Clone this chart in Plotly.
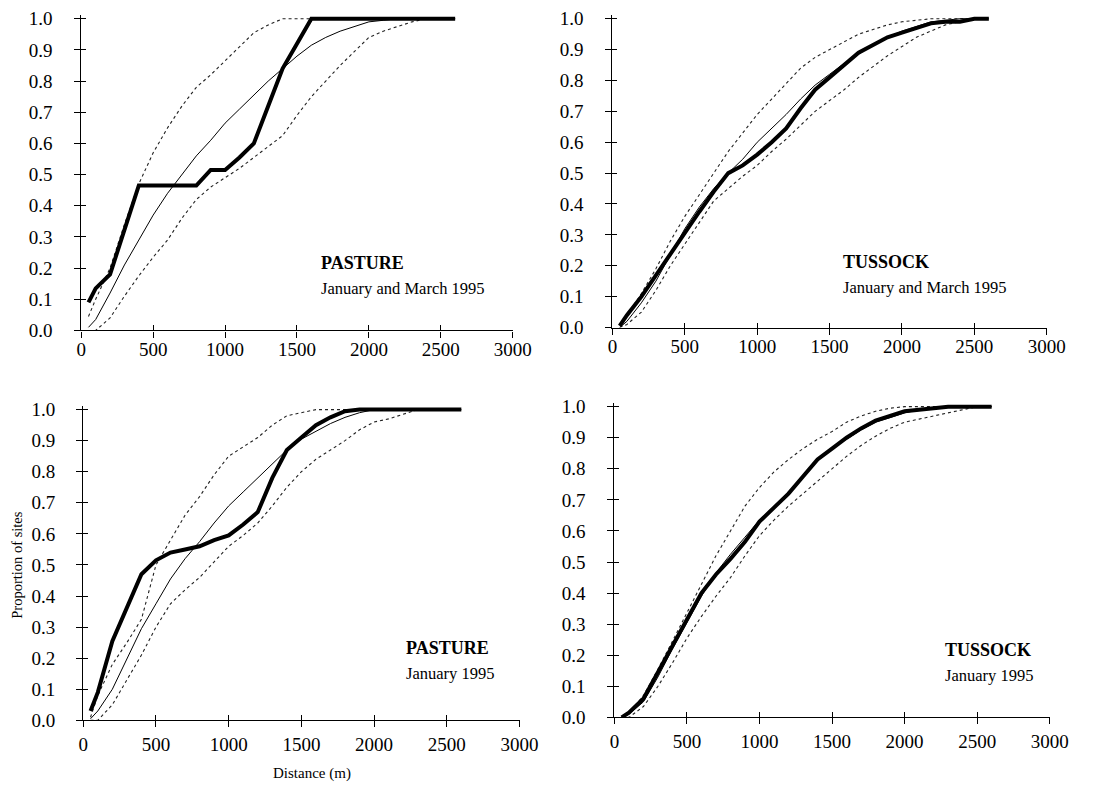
import plotly.graph_objects as go

# ---------------- data ----------------
distance = [50, 100, 200, 300, 400, 500, 600, 700, 800, 900, 1000, 1100, 1200, 1300,
            1400, 1500, 1600, 1700, 1800, 1900, 2000, 2100, 2200, 2300, 2400, 2500, 2600]

# Panel 1: PASTURE, January and March 1995 (observed, expected, upper/lower envelope)
p1_obs = [0.09, 0.135, 0.18, 0.32, 0.465, 0.465, 0.465, 0.465, 0.465, 0.515, 0.515, 0.555, 0.60, 0.72,
          0.84, 0.92, 1.0, 1.0, 1.0, 1.0, 1.0, 1.0, 1.0, 1.0, 1.0, 1.0, 1.0]
p1_exp = [0.01, 0.035, 0.12, 0.21, 0.29, 0.37, 0.44, 0.50, 0.56, 0.61, 0.665, 0.71, 0.755, 0.80,
          0.84, 0.88, 0.915, 0.94, 0.96, 0.975, 0.99, 0.995, 1.0, 1.0, 1.0, 1.0, 1.0]
p1_up = [0.045, 0.10, 0.20, 0.34, 0.47, 0.57, 0.65, 0.72, 0.78, 0.82, 0.865, 0.91, 0.955, 0.98,
         1.0, 1.0, 1.0, 1.0, 1.0, 1.0, 1.0, 1.0, 1.0, 1.0, 1.0, 1.0, 1.0]
p1_lo = [0.0, 0.0, 0.04, 0.11, 0.175, 0.235, 0.29, 0.36, 0.42, 0.46, 0.49, 0.52, 0.555, 0.59,
         0.625, 0.69, 0.75, 0.80, 0.85, 0.895, 0.94, 0.96, 0.975, 0.99, 1.0, 1.0, 1.0]

# Panel 2: TUSSOCK, January and March 1995
p2_obs = [0.005, 0.04, 0.10, 0.17, 0.24, 0.31, 0.375, 0.44, 0.50, 0.525, 0.56, 0.60, 0.645, 0.71,
          0.77, 0.81, 0.85, 0.89, 0.915, 0.94, 0.955, 0.97, 0.985, 0.99, 0.99, 1.0, 1.0]
p2_exp = [0.0, 0.02, 0.08, 0.15, 0.235, 0.32, 0.39, 0.45, 0.50, 0.545, 0.60, 0.645, 0.69, 0.74,
          0.785, 0.82, 0.855, 0.885, 0.915, 0.94, 0.96, 0.975, 0.99, 0.995, 1.0, 1.0, 1.0]
p2_up = [0.01, 0.04, 0.11, 0.19, 0.28, 0.36, 0.43, 0.50, 0.57, 0.63, 0.69, 0.74, 0.79, 0.84,
         0.875, 0.90, 0.925, 0.95, 0.965, 0.98, 0.99, 0.995, 1.0, 1.0, 1.0, 1.0, 1.0]
p2_lo = [0.0, 0.01, 0.05, 0.12, 0.20, 0.27, 0.34, 0.41, 0.45, 0.49, 0.525, 0.57, 0.61, 0.655,
         0.70, 0.735, 0.77, 0.81, 0.845, 0.88, 0.91, 0.94, 0.96, 0.98, 0.99, 1.0, 1.0]

# Panel 3: PASTURE, January 1995
p3_obs = [0.03, 0.09, 0.255, 0.36, 0.47, 0.515, 0.54, 0.55, 0.56, 0.58, 0.595, 0.63, 0.67, 0.78,
          0.87, 0.91, 0.95, 0.975, 0.995, 1.0, 1.0, 1.0, 1.0, 1.0, 1.0, 1.0, 1.0]
p3_exp = [0.005, 0.03, 0.10, 0.20, 0.295, 0.375, 0.455, 0.52, 0.575, 0.635, 0.69, 0.735, 0.78, 0.825,
          0.87, 0.905, 0.93, 0.955, 0.975, 0.99, 1.0, 1.0, 1.0, 1.0, 1.0, 1.0, 1.0]
p3_up = [0.01, 0.08, 0.18, 0.25, 0.325, 0.50, 0.58, 0.66, 0.72, 0.79, 0.85, 0.88, 0.91, 0.95,
         0.98, 0.99, 1.0, 1.0, 1.0, 1.0, 1.0, 1.0, 1.0, 1.0, 1.0, 1.0, 1.0]
p3_lo = [0.0, 0.0, 0.05, 0.13, 0.21, 0.30, 0.375, 0.42, 0.46, 0.51, 0.56, 0.595, 0.635, 0.69,
         0.75, 0.80, 0.84, 0.87, 0.90, 0.935, 0.96, 0.97, 0.985, 1.0, 1.0, 1.0, 1.0]

# Panel 4: TUSSOCK, January 1995
p4_obs = [0.0, 0.015, 0.06, 0.145, 0.235, 0.32, 0.40, 0.46, 0.51, 0.565, 0.63, 0.675, 0.72, 0.775,
          0.83, 0.865, 0.90, 0.93, 0.955, 0.97, 0.985, 0.99, 0.995, 1.0, 1.0, 1.0, 1.0]
p4_exp = [0.0, 0.01, 0.05, 0.13, 0.22, 0.305, 0.39, 0.465, 0.525, 0.58, 0.635, 0.68, 0.725, 0.775,
          0.825, 0.865, 0.895, 0.925, 0.95, 0.965, 0.98, 0.99, 0.995, 1.0, 1.0, 1.0, 1.0]
p4_up = [0.0, 0.015, 0.07, 0.155, 0.245, 0.335, 0.43, 0.52, 0.60, 0.68, 0.74, 0.79, 0.83, 0.865,
         0.895, 0.92, 0.95, 0.97, 0.985, 0.995, 1.0, 1.0, 1.0, 1.0, 1.0, 1.0, 1.0]
p4_lo = [0.0, 0.0, 0.035, 0.10, 0.175, 0.255, 0.325, 0.39, 0.45, 0.52, 0.585, 0.635, 0.68, 0.72,
         0.76, 0.80, 0.84, 0.875, 0.905, 0.93, 0.95, 0.96, 0.97, 0.98, 0.99, 1.0, 1.0]

habitats = ["PASTURE", "TUSSOCK", "PASTURE", "TUSSOCK"]
periods = ["January and March 1995", "January and March 1995", "January 1995", "January 1995"]

x_ticks = [0, 500, 1000, 1500, 2000, 2500, 3000]
y_ticks = [0.0, 0.1, 0.2, 0.3, 0.4, 0.5, 0.6, 0.7, 0.8, 0.9, 1.0]

panels = [
    (p1_obs, p1_exp, p1_up, p1_lo),
    (p2_obs, p2_exp, p2_up, p2_lo),
    (p3_obs, p3_exp, p3_up, p3_lo),
    (p4_obs, p4_exp, p4_up, p4_lo),
]

# ---------------- layout geometry (pixels) ----------------
W, H = 1099, 788
# (pixel x at 0, pixel x at 3000, pixel y at 1.0, pixel y at 0.0)
geom = [
    (78, 519, 12, 331),
    (621, 1065, 12, 328),
    (80, 526, 412, 730),
    (623, 1068, 409, 727),
]
x_standoff = [-4, -4, 1, 1]
y_standoff = [18, 18, 17, 18]
# panel label positions: (left x px, centre y px of the bold line)
label_pos = [(321, 262), (855, 261), (408, 656), (959, 658)]
LINE_GAP = 26.5

YMAX = 1.012
FONT = "Liberation Serif"
TICKSIZE = 19

fig = go.Figure()
layout = dict(
    width=W, height=H,
    margin=dict(l=0, r=0, t=0, b=0),
    paper_bgcolor="white", plot_bgcolor="white",
    showlegend=False,
    font=dict(family=FONT, color="black", size=TICKSIZE),
)

annotations = []
for i, (obs, exp, up, lo) in enumerate(panels):
    n = i + 1
    xa = "x" if n == 1 else f"x{n}"
    ya = "y" if n == 1 else f"y{n}"
    for vals, w, dash, col in [(lo, 1.1, "dot", "#222"), (up, 1.1, "dot", "#222"),
                               (exp, 1.0, "solid", "black"), (obs, 4.0, "solid", "black")]:
        fig.add_trace(go.Scatter(x=distance, y=vals, mode="lines", xaxis=xa, yaxis=ya,
                                 line=dict(color=col, width=w, dash=dash), hoverinfo="skip"))
    x0, x1, y1p, y0p = geom[i]
    xd = [x0 / W, x1 / W]
    ytop_px = y0p - (y0p - y1p) * YMAX
    yd = [1 - y0p / H, 1 - ytop_px / H]
    common_x = dict(domain=xd, range=[0, 3000], tickvals=x_ticks, showgrid=False, zeroline=False)
    common_y = dict(domain=yd, range=[0, YMAX], tickvals=y_ticks, showgrid=False, zeroline=False)
    layout[f"xaxis{n}"] = dict(common_x, anchor=ya, showline=True, linecolor="black", linewidth=1.2,
                               ticks="outside", ticklen=6, tickwidth=1.2, tickcolor="black",
                               ticklabelstandoff=x_standoff[i],
                               tickfont=dict(family=FONT, size=TICKSIZE, color="black"))
    layout[f"yaxis{n}"] = dict(common_y, anchor=xa, showline=True, linecolor="black", linewidth=1.2,
                               ticks="outside", ticklen=6, tickwidth=1.2, tickcolor="black",
                               tickformat=".1f", ticklabelstandoff=y_standoff[i],
                               tickfont=dict(family=FONT, size=TICKSIZE, color="black"))
    # overlay axes providing the inner half of the crossing ticks
    m = n + 4
    layout[f"xaxis{m}"] = dict(common_x, anchor=ya, overlaying=xa, showline=False,
                               ticks="inside", ticklen=5, tickwidth=1.2, tickcolor="black",
                               showticklabels=False)
    layout[f"yaxis{m}"] = dict(common_y, anchor=xa, overlaying=ya, showline=False,
                               ticks="inside", ticklen=5, tickwidth=1.2, tickcolor="black",
                               showticklabels=False)
    lx, ly = label_pos[i]
    annotations.append(dict(xref="paper", yref="paper", x=lx / W, y=1 - ly / H,
                            text=f"<b>{habitats[i]}</b>",
                            showarrow=False, xanchor="left", yanchor="middle",
                            font=dict(family=FONT, size=18, color="black")))
    annotations.append(dict(xref="paper", yref="paper", x=lx / W, y=1 - (ly + LINE_GAP) / H,
                            text=periods[i],
                            showarrow=False, xanchor="left", yanchor="middle",
                            font=dict(family=FONT, size=16.5, color="black")))

annotations.append(dict(xref="paper", yref="paper", x=12 / W, y=1 - 571 / H, text="Proportion of sites",
                        textangle=-90, showarrow=False, xanchor="center", yanchor="middle",
                        font=dict(family=FONT, size=14.5, color="black")))
annotations.append(dict(xref="paper", yref="paper", x=314 / W, y=1 - 784 / H, text="Distance (m)",
                        showarrow=False, xanchor="center", yanchor="middle",
                        font=dict(family=FONT, size=15, color="black")))
layout["annotations"] = annotations

# empty traces binding the overlay (inner tick) axes so they are drawn
for n in range(5, 9):
    fig.add_trace(go.Scatter(x=[], y=[], xaxis=f"x{n}", yaxis=f"y{n}", mode="lines",
                             hoverinfo="skip", showlegend=False))

fig.update_layout(**layout)
fig.write_html("out.html", config={"displayModeBar": False},
               post_script="document.body.style.margin='0';document.body.style.overflow='hidden';")
